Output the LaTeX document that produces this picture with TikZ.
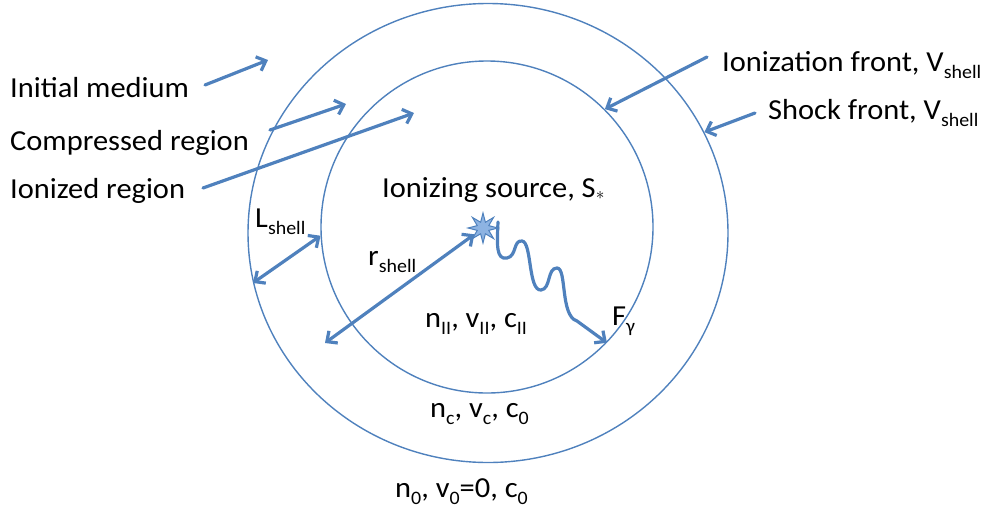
\documentclass[tikz,border=0pt]{standalone}
\usepackage{fontspec}
\setmainfont{Carlito}[FakeStretch=1.05]
\usetikzlibrary{arrows.meta, shapes.geometric}
\definecolor{ringblue}{RGB}{79, 129, 189}
\definecolor{starfill}{RGB}{141, 179, 226}
\newcommand{\lowsub}[1]{\raisebox{-7pt}{\fontsize{19}{19}\selectfont #1}}

\begin{document}
\begin{tikzpicture}[x=1pt, y=-1pt, font=\fontsize{29}{34}\selectfont,
    >={Straight Barb[length=8pt, width=15pt]},
    txt/.style={inner sep=0pt, anchor=base west},
    pointer/.style={->, line width=3.2pt, ringblue, line cap=round},
    ring/.style={draw=ringblue, line width=1.4pt, inner sep=0pt}]
  \useasboundingbox (0,0) rectangle (991,512);
  % shells
  \node[ring, ellipse, minimum width=480pt, minimum height=459pt] (outer) at (488,233) {};
  \node[ring, circle, minimum size=332pt] (inner) at (487,227) {};
  \node[star, star points=8, star point ratio=2.4, minimum size=30pt, inner sep=0pt,
        fill=starfill, draw=ringblue, line width=1pt] (src) at (483,228) {};
  % labels
  \node[txt] (medium)  at (10,97)  {Initial medium};
  \node[txt] (compr)   at (10,150) {Compressed region};
  \node[txt] (ionized) at (10,198) {Ionized region};
  \node[txt] (ifront)  at (722,71) {Ionization front, V\lowsub{shell}};
  \node[txt] (sfront)  at (768,119) {Shock front, V\lowsub{shell}};
  \node[txt] (source)  at (382,197) {Ionizing source, S\raisebox{-2pt}{\fontsize{19}{19}\selectfont$\ast$}};
  \node[txt] (lshell)  at (255,227) {L\lowsub{shell}};
  \node[txt] (rshell)  at (368,265) {r\lowsub{shell}};
  \node[txt] (inside)  at (425,327) {n\lowsub{II}, v\lowsub{II}, c\lowsub{II}};
  \node[txt] (flux)    at (612,325) {F\lowsub{γ}};
  \node[txt] (shell)   at (430,417) {n\lowsub{c}, v\lowsub{c}, c\lowsub{0}};
  \node[txt] (ambient) at (395,497) {n\lowsub{0}, v\lowsub{0}=0, c\lowsub{0}};
  % pointer ends
  \coordinate (mediumA)  at (205,85);  \coordinate (mediumB)  at (268,60);
  \coordinate (comprA)   at (270,130); \coordinate (comprB)   at (346,104);
  \coordinate (ionizedA) at (203,188); \coordinate (ionizedB) at (414,113);
  \coordinate (ifrontA)  at (707,57);
  \coordinate (sfrontA)  at (755,113);
  \coordinate (rEnd)     at (325,343);
  \coordinate (wave)     at (498,222);
  % pointers
  \draw[pointer] (mediumA) -- (mediumB);
  \draw[pointer] (comprA) -- (comprB);
  \draw[pointer] (ionizedA) -- (ionizedB);
  \draw[pointer] (ifrontA) -- (inner.45);
  \draw[pointer] (sfrontA) -- (outer.25);
  \draw[pointer, <->] (outer.192) -- (inner.183);
  \draw[pointer, <->] (rEnd) -- (src);
  % photon
  \draw[pointer] (wave) .. controls (497,245) and (496,260) .. (507,258)
    .. controls (517,256) and (513,240) .. (522,241)
    .. controls (532,242) and (528,291) .. (541,290)
    .. controls (551,289) and (547,268) .. (557,268)
    .. controls (567,268) and (560,316) .. (577,321) -- (inner.-44);
\end{tikzpicture}
\end{document}
